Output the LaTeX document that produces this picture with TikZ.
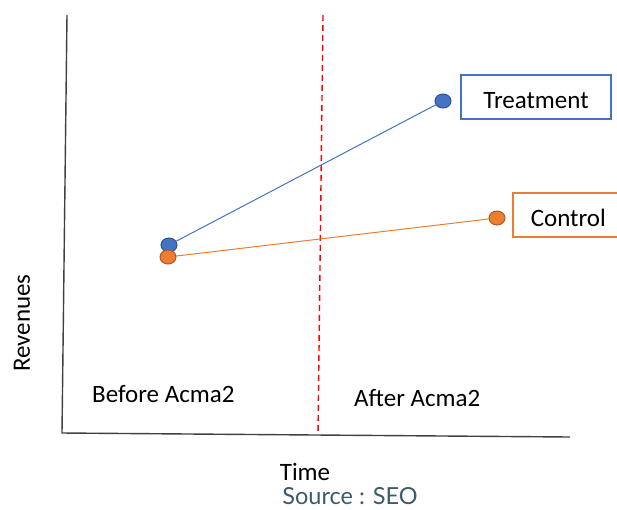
\documentclass[tikz,border=0pt]{standalone}
\usepackage{fontspec}
\setmainfont{Carlito}
\newfontfamily\srcfont{Lato}
\usetikzlibrary{shapes.geometric}
\definecolor{tblue}{HTML}{4472C4}
\definecolor{tblueline}{HTML}{2F528F}
\definecolor{corange}{HTML}{ED7D31}
\definecolor{corangeline}{HTML}{AE5A21}
\definecolor{srcgray}{HTML}{3B5B69}
\definecolor{axisgray}{HTML}{404040}

\begin{document}
\begin{tikzpicture}[x=1pt,y=-1pt,
    label text/.style={font=\fontsize{25}{30}\selectfont, inner sep=0pt},
    dot/.style={ellipse, draw, line width=1pt, minimum width=16pt, minimum height=14pt, inner sep=0pt},
    legend box/.style={draw, line width=1.5pt, minimum height=44pt, text height=24pt, text depth=2pt,
        font=\fontsize{25}{30}\selectfont, text=black},
    axis/.style={draw=axisgray, line width=1.4pt}]
    \useasboundingbox (0,0) rectangle (617,509);

    %axes and the dividing line
    \coordinate (ytop) at (67,15);
    \coordinate (origin) at (62,433);
    \coordinate (xend) at (570,437);
    \coordinate (dtop) at (323,15);
    \coordinate (dbot) at (318,435);
    \draw[axis] (ytop) -- (origin) -- (xend);
    \draw[red, line width=1.4pt, dash pattern=on 6pt off 4pt] (dtop) -- (dbot);

    %the two groups
    \node[dot, fill=tblue, draw=tblueline] (t0) at (169,245) {};
    \node[dot, fill=tblue, draw=tblueline] (t1) at (443,101) {};
    \node[dot, fill=corange, draw=corangeline] (c0) at (168,257) {};
    \node[dot, fill=corange, draw=corangeline] (c1) at (497,218) {};
    \draw[tblue, line width=1pt] (t0) -- (t1);
    \draw[corange, line width=1pt] (c0) -- (c1);

    %legend boxes
    \node[legend box, draw=tblue, minimum width=150pt] (treat) at (536,97) {Treatment};
    \node[legend box, draw=corange, anchor=west, inner xsep=18pt] (ctrl) at (512,215) {Control};

    %texts
    \node[label text, anchor=west] (before) at (92,394) {Before Acma2};
    \node[label text, anchor=west] (after) at (354,398) {After Acma2};
    \node[label text] (time) at (305,472) {Time};
    \node[label text, rotate=90] (rev) at (22,323) {Revenues};
    \node[inner sep=0pt, text=srcgray, font=\srcfont\fontsize{23.5}{28}\selectfont] (src) at (350,496) {Source : SEO};
\end{tikzpicture}
\end{document}
